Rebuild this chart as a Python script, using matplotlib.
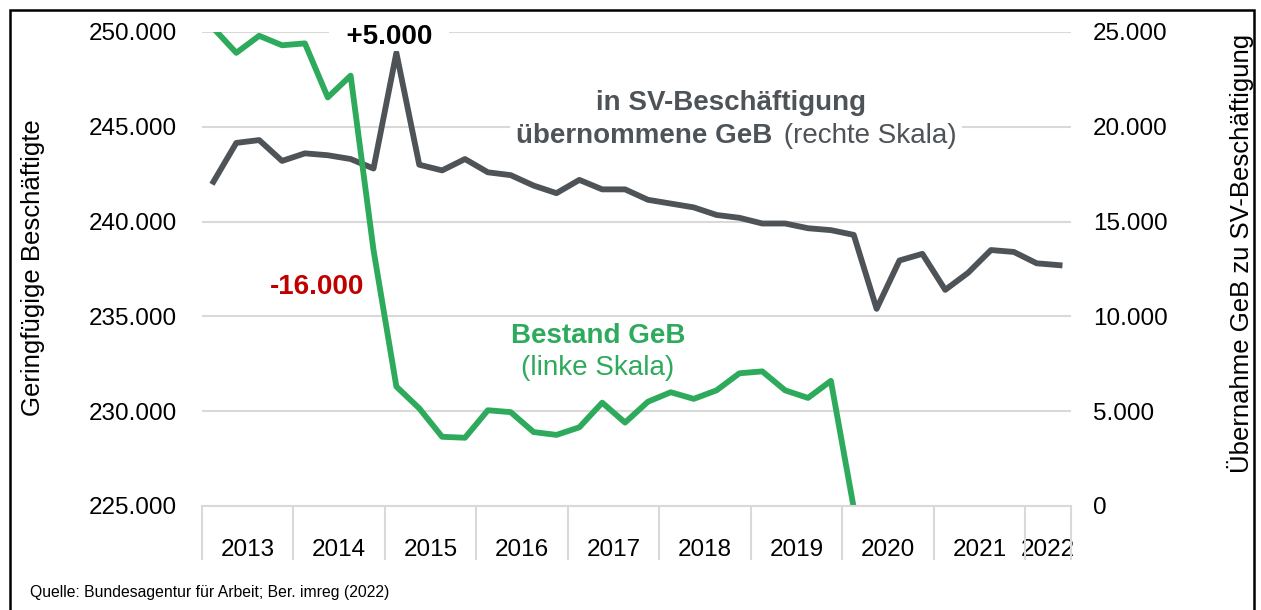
import matplotlib.pyplot as plt
import numpy as np
from matplotlib.patches import Rectangle
from matplotlib.ticker import FuncFormatter, MultipleLocator

plt.rcParams["font.family"] = ["Liberation Sans", "DejaVu Sans"]

# quarterly values, 2013 Q1 .. 2022 Q2
YEARS = ["2013", "2014", "2015", "2016", "2017", "2018", "2019", "2020", "2021", "2022"]
QUARTERS_PER_YEAR = [4, 4, 4, 4, 4, 4, 4, 4, 4, 2]

# Bestand geringfuegig Beschaeftigte (left scale), series ends in 2020 Q1
BESTAND_GEB = [250200, 248900, 249800, 249300, 249400, 246550, 247700, 238500,
               231300, 230150, 228650, 228600, 230050, 229950, 228900, 228750,
               229150, 230450, 229400, 230500, 231000, 230650, 231100, 232000,
               232100, 231100, 230700, 231600, 224900]

# in SV-Beschaeftigung uebernommene GeB (right scale)
UEBERNAHME_SV = [17100, 19150, 19300, 18200, 18600, 18500, 18300, 17800,
                 23900, 18000, 17700, 18300, 17600, 17450, 16900, 16500,
                 17200, 16700, 16700, 16150, 15950, 15750, 15350, 15200,
                 14900, 14900, 14650, 14550, 14300, 10400, 12950, 13300,
                 11400, 12300, 13500, 13400, 12800, 12700]

GREEN = "#2EAA5C"
GREY = "#4E5358"
RED = "#C00000"
GRID = "#D9D9D9"

W, H = 1261, 610


def px(x, y):
    """pixel position (from top left) -> figure fraction"""
    return x / W, 1 - y / H


def de_fmt(v, _pos=None):
    return f"{v:,.0f}".replace(",", ".")


def make_chart():
    n = sum(QUARTERS_PER_YEAR)
    x = np.arange(n)
    bounds = np.concatenate([[0], np.cumsum(QUARTERS_PER_YEAR)]) - 0.5
    centers = (bounds[:-1] + bounds[1:]) / 2

    fig = plt.figure(figsize=(W / 100, H / 100), dpi=100)
    ax = fig.add_axes([202 / W, 1 - 506 / H, (1071 - 202) / W, (506 - 32) / H])
    ax2 = ax.twinx()
    # green line on top, grid + grey line underneath
    ax.set_zorder(ax2.get_zorder() + 1)
    ax.patch.set_visible(False)

    ax2.plot(x[:len(UEBERNAHME_SV)], UEBERNAHME_SV, color=GREY, lw=4.2)
    ax.plot(x[:len(BESTAND_GEB)], BESTAND_GEB, color=GREEN, lw=4.2)

    ax.set_xlim(-0.5, n - 0.5)
    ax.set_ylim(225000, 250000)
    ax2.set_ylim(0, 25000)
    ax.yaxis.set_major_locator(MultipleLocator(5000))
    ax2.yaxis.set_major_locator(MultipleLocator(5000))
    ax.yaxis.set_major_formatter(FuncFormatter(de_fmt))
    ax2.yaxis.set_major_formatter(FuncFormatter(de_fmt))
    ax2.yaxis.grid(True, color=GRID, lw=1.5)
    ax2.set_axisbelow(True)

    for a in (ax, ax2):
        for side in ("top", "left", "right", "bottom"):
            a.spines[side].set_visible(False)
    ax.spines["bottom"].set_visible(True)
    ax.spines["bottom"].set_color(GRID)
    ax.spines["bottom"].set_linewidth(1.5)

    ax.set_xticks(centers)
    ax.set_xticklabels(YEARS)
    ax.set_xticks(bounds, minor=True)
    ax.tick_params(axis="x", which="major", length=0, pad=24, labelsize=17.5)
    ax.tick_params(axis="x", which="minor", length=39, width=1.5, color=GRID)
    ax.tick_params(axis="y", length=0, pad=18, labelsize=17.5)
    ax2.tick_params(axis="y", length=0, pad=16, labelsize=17.5)

    fig.text(*px(33, 268), "Geringfügige Beschäftigte", rotation=90,
             ha="center", va="center", fontsize=18.5)
    fig.text(*px(1240, 253), "Übernahme GeB zu SV-Beschäftigung", rotation=90,
             ha="center", va="center", fontsize=18.5)

    box = dict(facecolor="white", edgecolor="none", pad=1)
    wide_box = dict(facecolor="white", edgecolor="none", pad=4)
    fig.text(*px(389, 44), "  +5.000  ", ha="center", va="baseline",
             fontsize=20, fontweight="bold", color="black", bbox=box)
    fig.text(*px(731, 110), "in SV-Beschäftigung", ha="center", va="baseline",
             fontsize=20, fontweight="bold", color=GREY)
    fig.text(*px(776, 143), " (rechte Skala)", ha="left", va="baseline",
             fontsize=20, color=GREY, bbox=wide_box)
    fig.text(*px(772, 143), "übernommene GeB", ha="right", va="baseline",
             fontsize=20, fontweight="bold", color=GREY, bbox=wide_box)
    fig.text(*px(317, 294), "-16.000", ha="center", va="baseline",
             fontsize=20, fontweight="bold", color=RED)
    fig.text(*px(598, 343), "Bestand GeB", ha="center", va="baseline",
             fontsize=20, fontweight="bold", color=GREEN)
    fig.text(*px(598, 375), "(linke Skala)", ha="center", va="baseline",
             fontsize=20, color=GREEN)

    fig.text(*px(30, 592), "Quelle: Bundesagentur für Arbeit; Ber. imreg (2022)",
             ha="left", va="center", fontsize=11.3)

    # outer frame, bottom edge lies outside the picture
    fig.patches.append(Rectangle(px(10, 620), (1254 - 10) / W, 610 / H,
                                 transform=fig.transFigure, fill=False,
                                 edgecolor="black", lw=1.8))

    fig.savefig("out.png", dpi=100)
    plt.close(fig)


if __name__ == "__main__":
    make_chart()
